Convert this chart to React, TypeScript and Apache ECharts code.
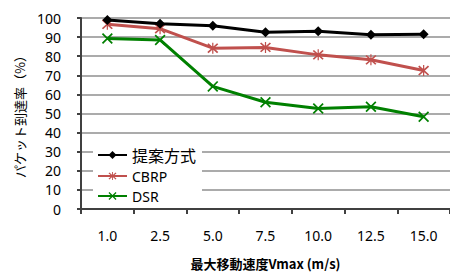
import React, { useEffect, useRef } from "react";
import * as echarts from "echarts";

const categories = ["1.0", "2.5", "5.0", "7.5", "10.0", "12.5", "15.0"];
const proposed = [99, 97, 96, 92.5, 93, 91.2, 91.5];
const cbrp = [96.7, 94.4, 84.2, 84.6, 80.7, 78.1, 72.5];
const dsr = [89.3, 88.5, 64.2, 55.9, 52.6, 53.5, 48.3];
const seriesNames = ["提案方式", "CBRP", "DSR"];

const X_PATH = "path://M1,3 L3,1 L19,17 L17,19 Z M17,1 L19,3 L3,19 L1,17 Z";
const STAR_PATH = "path://M1,3 L3,1 L19,17 L17,19 Z M17,1 L19,3 L3,19 L1,17 Z M9,0 L11,0 L11,20 L9,20 Z";

export default function App() {
  const ref = useRef<HTMLDivElement>(null);
  useEffect(() => {
    if (!ref.current) return;
    const chart = echarts.init(ref.current, undefined, { renderer: "svg" });
    const jp = "'Noto Sans CJK JP', 'Noto Sans', sans-serif";
    const latin = "'Noto Sans', sans-serif";
    chart.setOption({
      animation: false,
      backgroundColor: "#fff",
      grid: { left: 81, top: 18, width: 371, bottom: 62, containLabel: false },
      legend: {
        orient: "vertical",
        left: 93,
        top: 144,
        itemWidth: 29,
        itemHeight: 10,
        itemGap: 6,
        backgroundColor: "#fff",
        padding: [3, 6, 3, 4],
        formatter: (name: string) => (name === seriesNames[0] ? `{j|${name}}` : `{e|${name}}`),
        textStyle: {
          color: "#000",
          rich: {
            j: { fontFamily: jp, fontSize: 16, lineHeight: 14, color: "#000" },
            e: { fontFamily: latin, fontSize: 14, lineHeight: 14, color: "#000" },
          },
        },
        data: seriesNames,
      },
      xAxis: {
        type: "category",
        data: categories,
        boundaryGap: true,
        name: "最大移動速度Vmax (m/s)",
        nameLocation: "middle",
        nameGap: 48,
        nameTextStyle: { fontFamily: jp, fontSize: 13, color: "#000", fontWeight: "bold" },
        axisLine: { lineStyle: { color: "#404040", width: 2 } },
        axisTick: { show: true, length: 5, lineStyle: { color: "#404040", width: 2 } },
        axisLabel: { fontFamily: latin, fontSize: 14, color: "#000", margin: 19 },
        splitLine: { show: false },
      },
      yAxis: {
        type: "value",
        min: 0,
        max: 100,
        interval: 10,
        name: "パケット到達率（%）",
        nameLocation: "middle",
        nameGap: 55,
        nameRotate: 90,
        nameTextStyle: { fontFamily: jp, fontSize: 13, color: "#000" },
        axisLine: { show: true, lineStyle: { color: "#404040", width: 2 } },
        axisTick: { show: true, length: 4, lineStyle: { color: "#404040", width: 2 } },
        axisLabel: { fontFamily: latin, fontSize: 14, color: "#000", margin: 20 },
        splitLine: { show: true, lineStyle: { color: "#ABABAB", width: 2 } },
      },
      series: [
        {
          name: seriesNames[0],
          type: "line",
          data: proposed,
          symbol: "diamond",
          symbolSize: 10,
          lineStyle: { color: "#000", width: 3 },
          itemStyle: { color: "#000" },
          z: 3,
        },
        {
          name: seriesNames[1],
          type: "line",
          data: cbrp,
          symbol: STAR_PATH,
          symbolSize: 11,
          lineStyle: { color: "#C0504D", width: 3 },
          itemStyle: { color: "#C0504D" },
          z: 2,
        },
        {
          name: seriesNames[2],
          type: "line",
          data: dsr,
          symbol: X_PATH,
          symbolSize: 11,
          lineStyle: { color: "#008000", width: 3 },
          itemStyle: { color: "#008000" },
          z: 1,
        },
      ],
    });
    return () => chart.dispose();
  }, []);
  return <div ref={ref} style={{ width: 450, height: 275, position: "absolute", left: 0, top: 0 }} />;
}
